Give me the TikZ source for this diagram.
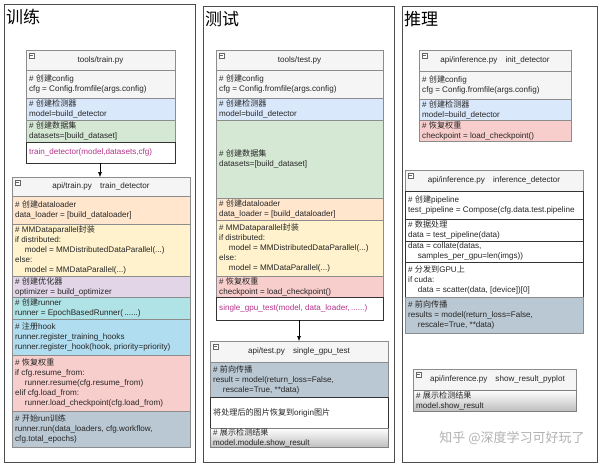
\documentclass[tikz,border=0pt]{standalone}
\usepackage{fontspec}
\setmainfont{Liberation Sans}
\newfontfamily\zhf{Noto Sans CJK SC}
\newcommand\zh[1]{{\zhf #1}}
\usetikzlibrary{arrows.meta}
\definecolor{cgray}{HTML}{F5F5F5}
\definecolor{cblue}{HTML}{DAE8FC}
\definecolor{cgreen}{HTML}{D5E8D4}
\definecolor{corange}{HTML}{FFE6CC}
\definecolor{cyellow}{HTML}{FFF2CC}
\definecolor{cpurple}{HTML}{E1D5E7}
\definecolor{cteal}{HTML}{B0E3E6}
\definecolor{clblue}{HTML}{B1DDF0}
\definecolor{cred}{HTML}{F8CECC}
\definecolor{cslate}{HTML}{BAC8D3}
\definecolor{cmag}{HTML}{B5338A}
\tikzset{
 txt/.style={anchor=west,align=left,inner sep=0pt,font=\fontsize{8.1}{10}\selectfont,text=black!85},
 panel/.style={draw=black!70,line width=0.8pt},
 ptitle/.style={anchor=north west,inner sep=0pt,font=\fontsize{17}{17}\zhf},
 conn/.style={draw=black,line width=0.6pt,-{Latex[length=5pt,width=4pt]}},
 wbox/.style={fill=white,draw=black!80,line width=0.7pt},
}
\newcommand\blk[7]{\draw[fill=#6,draw=black!45,line width=0.5pt] (#2,#3) rectangle (#4,#5); \node[txt] (#1) at (#2+3,{(#3+#5)/2}) {#7};}
\newcommand\hdr[6]{\draw[fill=cgray,draw=black!45,line width=0.5pt] (#2,#3) rectangle (#4,#5);
 \draw[black!60,fill=white,line width=0.4pt] (#2+3,#3+3) rectangle (#2+8,#3+8); \draw[black!60,line width=0.4pt] (#2+4,#3+5.5) -- (#2+7,#3+5.5);
 \node[txt,anchor=center] (#1) at ({(#2+#4)/2},{(#3+#5)/2}) {#6};}
\begin{document}
\begin{tikzpicture}[x=1pt,y=-1pt]
\useasboundingbox[fill=white] (0,0) rectangle (600,466);
% panels
\draw[panel] (4,4) rectangle (195,462);
\draw[panel] (203,6) rectangle (394,462);
\draw[panel] (402,6) rectangle (597,462);
\node[ptitle] (t1) at (6,9) {训练};
\node[ptitle] (t2) at (205,11) {测试};
\node[ptitle] (t3) at (404,11) {推理};
% ---- train
\hdr{h1}{26}{50}{175}{70}{tools/train.py}
\blk{a1}{26}{70}{175}{98}{cgray}{\# \zh{创建}config\\cfg = Config.fromfile(args.config)}
\blk{a2}{26}{98}{175}{120}{cblue}{\# \zh{创建检测器}\\model=build\_detector}
\blk{a3}{26}{120}{175}{142}{cgreen}{\# \zh{创建数据集}\\datasets=[build\_dataset]}
\draw[wbox] (26,142) rectangle (175,163);
\node[txt,text=cmag] (a4) at (29,152.5) {train\_detector(model,datasets,cfg)};
\coordinate (a4s) at (100,163);
\hdr{h2}{12}{177}{190}{196}{api/train.py\quad train\_detector}
\coordinate (h2n) at (100,177);
\blk{b1}{12}{196}{190}{224}{corange}{\# \zh{创建}dataloader\\data\_loader = [build\_dataloader]}
\blk{b2}{12}{224}{190}{276}{cyellow}{\# MMDataparallel\zh{封装}\\if distributed:\\\hspace*{1.2em}model = MMDistributedDataParallel(...)\\else:\\\hspace*{1.2em}model = MMDataParallel(...)}
\blk{b3}{12}{276}{190}{297}{cpurple}{\# \zh{创建优化器}\\optimizer = build\_optimizer}
\blk{b4}{12}{297}{190}{319}{cteal}{\# \zh{创建}runner\\runner = EpochBasedRunner(\,......)}
\blk{b5}{12}{319}{190}{355}{clblue}{\# \zh{注册}hook\\runner.register\_training\_hooks\\runner.register\_hook(hook, priority=priority)}
\blk{b6}{12}{355}{190}{411}{cred}{\# \zh{恢复权重}\\if cfg.resume\_from:\\\hspace*{1.2em}runner.resume(cfg.resume\_from)\\elif cfg.load\_from:\\\hspace*{1.2em}runner.load\_checkpoint(cfg.load\_from)}
\blk{b7}{12}{411}{190}{447}{cslate}{\# \zh{开始}run\zh{训练}\\runner.run(data\_loaders, cfg.workflow,\\cfg.total\_epochs)}
\draw[conn] (a4s) -- (h2n);
% ---- test
\hdr{h3}{216}{50}{383}{70}{tools/test.py}
\blk{c1}{216}{70}{383}{98}{cgray}{\# \zh{创建}config\\cfg = Config.fromfile(args.config)}
\blk{c2}{216}{98}{383}{120}{cblue}{\# \zh{创建检测器}\\model=build\_detector}
\blk{c3}{216}{120}{383}{198}{cgreen}{\# \zh{创建数据集}\\datasets=[build\_dataset]}
\blk{c4}{216}{198}{383}{220}{corange}{\# \zh{创建}dataloader\\data\_loader = [build\_dataloader]}
\blk{c5}{216}{220}{383}{276}{cyellow}{\# MMDataparallel\zh{封装}\\if distributed:\\\hspace*{1.2em}model = MMDistributedDataParallel(...)\\else:\\\hspace*{1.2em}model = MMDataParallel(...)}
\blk{c6}{216}{276}{383}{297}{cred}{\# \zh{恢复权重}\\checkpoint = load\_checkpoint()}
\draw[wbox] (216,297) rectangle (383,320);
\node[txt,text=cmag] (c7) at (219,308.5) {single\_gpu\_test(model, data\_loader,\,......)};
\coordinate (c7s) at (299,320);
\hdr{h4}{210}{341}{388}{362}{api/test.py\quad single\_gpu\_test}
\coordinate (h4n) at (299,341);
\draw[conn] (c7s) -- (h4n);
\blk{d1}{210}{362}{388}{397}{cslate}{\# \zh{前向传播}\\result = model(return\_loss=False,\\\hspace*{1.2em}rescale=True, **data)}
\draw[wbox] (210,397) rectangle (388,428);
\node[txt] (d2) at (213,412.5) {\zh{将处理后的图片恢复到}origin\zh{图片}};
\shade[top color=white,bottom color=black!25,draw=black!50] (210,428) rectangle (388,447);
\node[txt] (d3) at (213,437.5) {\# \zh{展示检测结果}\\model.module.show\_result};
% ---- inference
\hdr{h5}{419}{50}{571}{71}{api/inference.py\quad init\_detector}
\blk{e1}{419}{71}{571}{99}{cgray}{\# \zh{创建}config\\cfg = Config.fromfile(args.config)}
\blk{e2}{419}{99}{571}{120}{cblue}{\# \zh{创建检测器}\\model=build\_detector}
\blk{e3}{419}{120}{571}{141}{cred}{\# \zh{恢复权重}\\checkpoint = load\_checkpoint()}
\hdr{h6}{405}{170}{583}{191}{api/inference.py\quad inference\_detector}
\begin{scope}
\clip (405,191) rectangle (583,333);
\blk{f1}{405}{191}{583}{219}{white}{\# \zh{创建}pipeline\\test\_pipeline = Compose(cfg.data.test.pipeline}
\end{scope}
\blk{f2}{405}{219}{583}{241}{white}{\# \zh{数据处理}\\data = test\_pipeline(data)}
\blk{f3}{405}{241}{583}{262}{white}{data = collate(datas,\\\hspace*{1.2em}samples\_per\_gpu=len(imgs))}
\blk{f4}{405}{262}{583}{297}{white}{\# \zh{分发到}GPU\zh{上}\\if cuda:\\\hspace*{1.2em}data = scatter(data, [device])[0]}
\draw[black!80,line width=0.7pt] (405,191) rectangle (583,297);
\foreach \yy in {219,241,262} \draw[black!80,line width=0.7pt] (405,\yy) -- (583,\yy);
\blk{f5}{405}{297}{583}{333}{cslate}{\# \zh{前向传播}\\results = model(return\_loss=False,\\\hspace*{1.2em}rescale=True, **data)}
\hdr{h7}{413}{369}{576}{390}{\hspace*{6pt}api/inference.py\quad show\_result\_pyplot}
\shade[top color=white,bottom color=black!25,draw=black!50] (413,390) rectangle (576,411);
\node[txt] (g1) at (416,400.5) {\# \zh{展示检测结果}\\model.show\_result};
% watermark
\node[anchor=center,inner sep=0pt,text=black!30,font=\fontsize{13}{13}\zhf] (wm) at (512,438) {知乎 @深度学习可好玩了};
\end{tikzpicture}
\end{document}
